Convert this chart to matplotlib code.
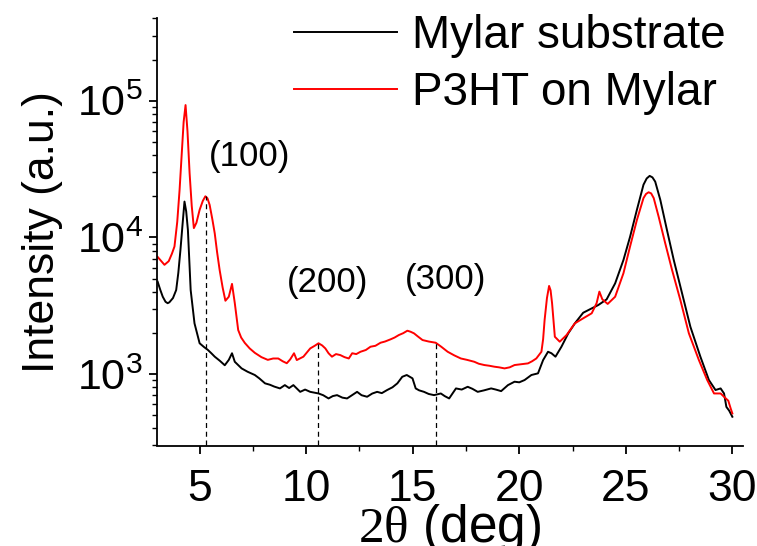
import matplotlib
matplotlib.use("Agg")
import matplotlib.pyplot as plt

plt.rcParams["font.family"] = ["Liberation Sans", "DejaVu Sans"]
plt.rcParams["mathtext.fontset"] = "custom"
plt.rcParams["mathtext.rm"] = "Liberation Serif"

# Mylar substrate (black)
mylar_x = [3.03, 3.15, 3.27, 3.40, 3.50, 3.58, 3.75, 3.90, 4.00, 4.10, 4.20, 4.29, 4.37, 4.45,
           4.58, 4.76, 5.00, 5.20, 5.39, 5.55, 5.71, 5.95, 6.18, 6.37, 6.52, 6.65, 6.97,
           7.25, 7.59, 7.80, 8.07, 8.30, 8.50, 8.77, 9.00, 9.20, 9.40, 9.72, 9.95, 10.19,
           10.58, 10.80, 11.05, 11.25, 11.45, 11.70, 11.92, 12.15, 12.39, 12.60, 12.86,
           13.10, 13.33, 13.55, 13.80, 14.05, 14.28, 14.51, 14.72, 14.99, 15.14, 15.30,
           15.53, 15.75, 16.00, 16.32, 16.50, 16.71, 17.03, 17.30, 17.58, 17.80, 18.05,
           18.35, 18.68, 18.90, 19.15, 19.47, 19.78, 20.00, 20.25, 20.57, 20.88, 21.12,
           21.35, 21.51, 21.70, 21.98, 22.30, 22.61, 23.00, 23.32, 23.71, 24.10, 24.50,
           24.89, 25.20, 25.52, 25.83, 25.98, 26.12, 26.25, 26.38, 26.62, 26.93, 27.25,
           27.64, 28.03, 28.50, 28.90, 29.21, 29.45, 29.61, 29.72, 29.85, 30.00]
mylar_y = [4740, 4150, 3680, 3380, 3300, 3350, 3600, 4120, 5500, 8090, 12500, 18300, 15500, 11350,
           4120, 2350, 1680, 1580, 1500, 1420, 1340, 1250, 1160, 1270, 1420, 1230, 1100,
           1040, 984, 930, 855, 835, 810, 785, 830, 790, 830, 741, 770, 741,
           721, 700, 663, 690, 701, 672, 663, 700, 741, 700, 682,
           720, 741, 725, 764, 800, 855, 955, 984, 930, 785, 760,
           741, 715, 701, 721, 690, 663, 785, 770, 807, 780, 741,
           760, 785, 770, 750, 830, 879, 870, 904, 984, 1012, 1266,
           1456, 1420, 1340, 1585, 1986, 2350, 2810, 2980, 3200, 3520, 4610,
           6840, 10100, 15900, 24300, 27000, 28200, 27500, 25600, 18800, 11350, 6840,
           3900, 2220, 1340, 904, 764, 785, 721, 575, 540, 487]

# P3HT on Mylar (red)
p3ht_x = [3.03, 3.20, 3.35, 3.55, 3.70, 3.82, 3.95, 4.06, 4.15, 4.25, 4.34, 4.43, 4.53, 4.63,
          4.73, 4.85, 5.00, 5.15, 5.27, 5.37, 5.47, 5.60, 5.71, 5.82, 5.94, 6.08, 6.21,
          6.37, 6.52, 6.65, 6.81, 6.95, 7.12, 7.35, 7.59, 7.90, 8.20, 8.45, 8.69, 8.90,
          9.09, 9.25, 9.43, 9.56, 9.70, 9.87, 10.05, 10.19, 10.40, 10.58, 10.75, 10.90,
          11.05, 11.21, 11.40, 11.60, 11.80, 12.00, 12.16, 12.35, 12.55, 12.80, 13.02,
          13.25, 13.49, 13.70, 13.96, 14.15, 14.35, 14.55, 14.75, 14.90, 15.06, 15.25,
          15.46, 15.75, 16.08, 16.35, 16.64, 16.95, 17.26, 17.55, 17.89, 18.10, 18.36,
          18.60, 18.83, 19.05, 19.31, 19.55, 19.78, 20.10, 20.41, 20.60, 20.80, 21.04,
          21.12, 21.19, 21.30, 21.40, 21.47, 21.54, 21.67, 21.90, 22.22, 22.61, 23.00,
          23.40, 23.63, 23.76, 23.90, 24.15, 24.50, 24.89, 25.20, 25.52, 25.83, 25.95,
          26.07, 26.19, 26.31, 26.54, 26.85, 27.17, 27.56, 27.96, 28.43, 28.82, 29.14,
          29.45, 29.61, 29.81, 29.92, 30.00]
p3ht_y = [7200, 6700, 6300, 6700, 7600, 8580, 13000, 22300, 38000, 70000, 93000, 60000, 29500, 17000,
          11700, 12800, 15900, 18500, 20000, 19300, 17300, 13500, 10700, 7800, 5770, 4300, 3440,
          3680, 4570, 3310, 2100, 1850, 1690, 1540, 1430, 1330, 1270, 1300, 1300, 1240,
          1200, 1280, 1420, 1266, 1300, 1340, 1450, 1540, 1610, 1680, 1620, 1540,
          1420, 1340, 1400, 1377, 1330, 1300, 1420, 1400, 1456, 1500, 1585,
          1610, 1695, 1730, 1795, 1850, 1930, 1990, 2076, 2040, 1986, 1880,
          1774, 1730, 1695, 1580, 1456, 1370, 1300, 1270, 1230, 1190, 1164,
          1150, 1132, 1120, 1100, 1120, 1164, 1180, 1197, 1240, 1300, 1456,
          1800, 2490, 3600, 4414, 4100, 3300, 1875, 1725, 1930, 2350, 2558,
          2784, 3300, 4010, 3520, 3260, 3680, 5470, 8580, 13400, 19400, 20800,
          21400, 21000, 19400, 14200, 9060, 5780, 3480, 1986, 1266, 904, 721,
          721, 682, 638, 561, 515]

# reflections: dashed marker position, top of marker, label and label position
peak_x = [5.28, 10.55, 16.08]
peak_top = [20000, 1680, 1690]
peak_labels = ["(100)", "(200)", "(300)"]
label_x = [7.36, 10.99, 16.56]
label_y = [39000, 4700, 4900]

fig = plt.figure(figsize=(7.57, 5.46), dpi=100)
ax = fig.add_axes([157 / 757, 1 - 445.5 / 546, (743 - 157) / 757, (445.5 - 18.5) / 546])

ax.plot(mylar_x, mylar_y, color="black", lw=1.4, label="Mylar substrate")
ax.plot(p3ht_x, p3ht_y, color="red", lw=1.4, label="P3HT on Mylar")

for px, top in zip(peak_x, peak_top):
    ax.vlines(px, 300, top, colors="black", linestyles=(0, (4, 3)), lw=0.9)
for lbl, lx, ly in zip(peak_labels, label_x, label_y):
    ax.text(lx, ly, lbl, fontsize=25, ha="center", va="center")

ax.set_yscale("log")
ax.set_xlim(3, 30.5)
ax.set_ylim(300, 4e5)
ax.set_xticks([5, 10, 15, 20, 25, 30])
ax.set_xticks([7.5, 12.5, 17.5, 22.5, 27.5], minor=True)

for side in ["top", "right"]:
    ax.spines[side].set_visible(False)
for side in ["left", "bottom"]:
    ax.spines[side].set_linewidth(1.3)

ax.tick_params(which="major", direction="out", length=6, width=1.3, labelsize=31, pad=4)
ax.tick_params(which="minor", direction="out", length=3.5, width=1.0)
ax.tick_params(axis="x", which="major", labelsize=32, pad=11)

ax.set_ylabel("Intensity (a.u.)", fontsize=32, labelpad=10)
ax.set_xlabel(r"$\mathrm{2\theta}$ (deg)", fontsize=37, labelpad=-6)

fig.legend(loc="upper right", bbox_to_anchor=(726 / 757, 1 - 14 / 546), frameon=False,
           fontsize=33, handlelength=2.25, handletextpad=0.33, labelspacing=0.28,
           borderpad=0, borderaxespad=0)

fig.savefig("out.png", dpi=100)
